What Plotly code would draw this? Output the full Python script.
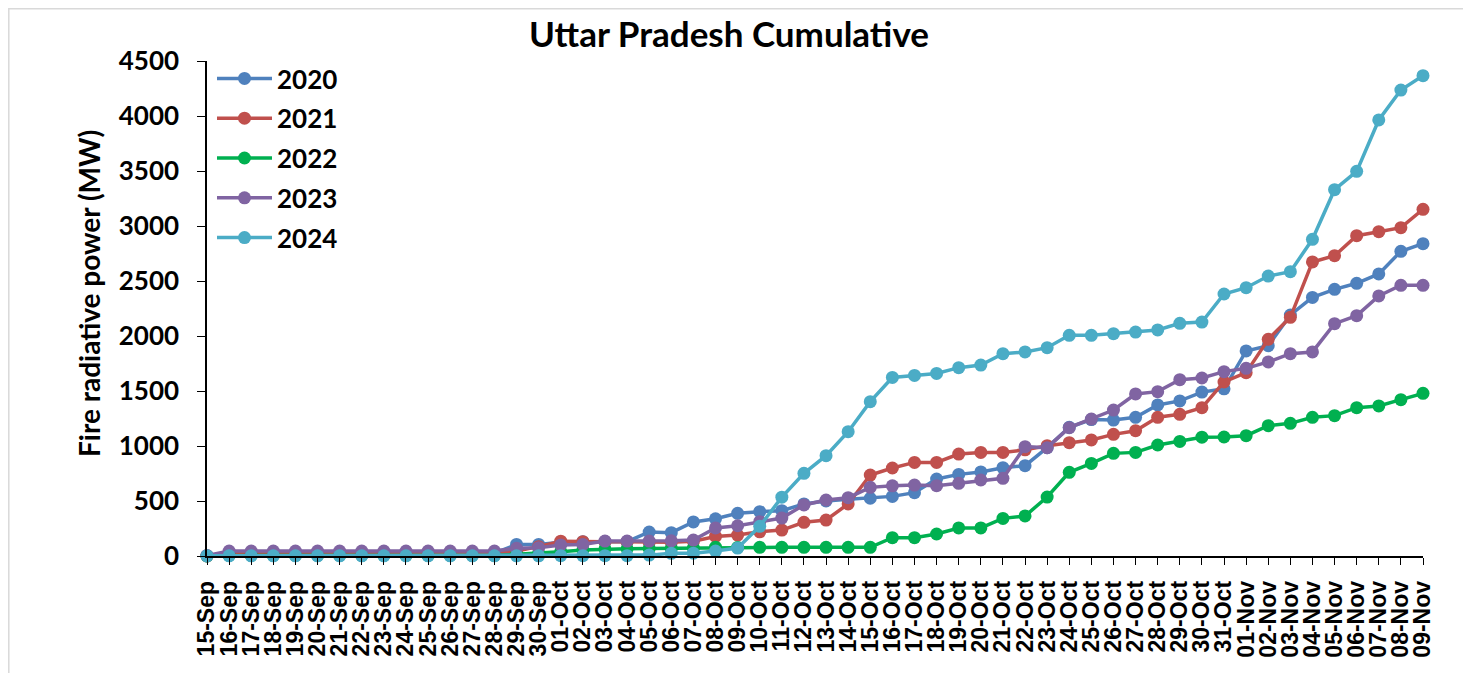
import plotly.graph_objects as go

dates = (["15-Sep", "16-Sep", "17-Sep", "18-Sep", "19-Sep", "20-Sep", "21-Sep", "22-Sep",
          "23-Sep", "24-Sep", "25-Sep", "26-Sep", "27-Sep", "28-Sep", "29-Sep", "30-Sep"]
         + ["%02d-Oct" % d for d in range(1, 32)]
         + ["%02d-Nov" % d for d in range(1, 10)])

y2020 = [0, 25, 25, 25, 25, 25, 25, 25, 25, 25, 25, 25, 25, 25, 105, 105,
         125, 130, 130, 130, 218, 212, 310, 338, 388, 403, 412, 473, 500, 515,
         525, 542, 576, 700, 742, 764, 803, 821, 985, 1170, 1240, 1236, 1261, 1373,
         1410, 1490, 1520, 1864, 1912, 2191, 2351, 2424, 2479, 2564, 2770, 2839]
y2021 = [0, 20, 20, 20, 20, 20, 20, 20, 20, 20, 20, 20, 20, 20, 45, 85,
         135, 130, 130, 130, 125, 125, 135, 178, 190, 220, 236, 306, 327, 473,
         736, 800, 851, 851, 927, 942, 942, 965, 1003, 1030, 1055, 1106, 1139, 1261,
         1288, 1348, 1582, 1667, 1970, 2170, 2673, 2730, 2912, 2948, 2985, 3152]
y2022 = [0, 5, 5, 5, 5, 5, 5, 5, 5, 5, 5, 5, 5, 5, 15, 25,
         39, 55, 64, 66, 68, 70, 72, 80, 78, 79, 79, 79, 79, 79,
         79, 167, 167, 200, 255, 255, 342, 364, 536, 761, 842, 933, 942, 1009,
         1042, 1080, 1082, 1094, 1185, 1206, 1261, 1276, 1348, 1364, 1421, 1479]
y2023 = [5, 45, 45, 45, 45, 45, 45, 45, 45, 45, 45, 45, 45, 45, 70, 76,
         100, 105, 136, 136, 136, 138, 145, 255, 275, 312, 345, 464, 509, 530,
         624, 638, 645, 639, 661, 691, 706, 994, 985, 1167, 1245, 1327, 1473, 1494,
         1603, 1618, 1676, 1706, 1764, 1839, 1855, 2112, 2185, 2364, 2461, 2461]
y2024 = [2, 2, 2, 2, 2, 2, 2, 2, 2, 2, 2, 2, 2, 2, 2, 2,
         3, 3, 3, 3, 8, 24, 26, 45, 72, 270, 535, 752, 912, 1130,
         1403, 1623, 1642, 1660, 1712, 1736, 1839, 1855, 1894, 2006, 2006, 2021, 2036, 2055,
         2115, 2127, 2382, 2439, 2545, 2585, 2879, 3330, 3497, 3964, 4236, 4367]

series_names = ["2020", "2021", "2022", "2023", "2024"]
series_values = [y2020, y2021, y2022, y2023, y2024]
colors = ["#4F81BD", "#C0504D", "#00B050", "#8064A2", "#4BACC6"]
y_ticks = [0, 500, 1000, 1500, 2000, 2500, 3000, 3500, 4000, 4500]

# page body has an 8px margin: figure pixel (x, y) lands at (x+8, y+8)
OFF = 8
W, H = 1471 - 2 * OFF, 681 - 2 * OFF
L, T = 207 - OFF, 61 - OFF
pw, ph = 1216, 495
R, B = W - L - pw, H - T - ph
BOT = T + ph  # plot bottom in figure pixels


def px_x(xr):
    return (xr - OFF - L) / pw


def px_y(yr):
    return (BOT - (yr - OFF)) / ph


fig = go.Figure()
for name, vals, col in zip(series_names, series_values, colors):
    fig.add_trace(go.Scatter(
        x=list(range(len(dates))), y=vals, name=name, mode="lines+markers",
        line=dict(color=col, width=3.5),
        marker=dict(color=col, size=13),
        cliponaxis=False, legendgroup=name,
    ))

fig.update_layout(
    width=W, height=H,
    margin=dict(l=L, r=R, t=T, b=B),
    paper_bgcolor="white", plot_bgcolor="white",
    showlegend=True,
    title=dict(text="Uttar Pradesh Cumulative", x=(729 - OFF) / W, xanchor="center",
               y=1 - (35 - OFF) / H, yanchor="middle", yref="container",
               font=dict(family="Lato", size=35, color="black", weight="bold")),
    legend=dict(x=px_x(212), y=px_y(55), xanchor="left", yanchor="top",
                bgcolor="rgba(0,0,0,0)",
                font=dict(family="Lato", size=26, color="black", weight="bold"),
                tracegroupgap=3, itemwidth=55),
    xaxis=dict(
        range=[0, len(dates) - 1], tickmode="array", tickvals=list(range(len(dates))),
        ticktext=dates, tickangle=-90,
        tickfont=dict(family="Liberation Sans", size=23, color="black", weight="bold"),
        ticklabelstandoff=7,
        showline=True, linecolor="black", linewidth=1.5, ticks="outside", ticklen=7,
        tickcolor="black", showgrid=False, zeroline=False, automargin=False,
    ),
    yaxis=dict(
        range=[0, 4500], tickvals=y_ticks, ticktext=[str(v) for v in y_ticks],
        tickfont=dict(family="Lato", size=26, color="black", weight="bold"),
        ticklabelstandoff=13,
        showline=True, linecolor="black", linewidth=1.5, ticks="outside", ticklen=8,
        tickcolor="black", showgrid=False, zeroline=False, automargin=False,
    ),
    annotations=[dict(
        text="Fire radiative power (MW)", textangle=-90,
        x=px_x(89), y=px_y(294), xref="paper", yref="paper",
        xanchor="center", yanchor="middle", showarrow=False,
        font=dict(family="Lato", size=28, color="black", weight="bold"),
    )],
    shapes=[dict(type="rect", xref="paper", yref="paper",
                 x0=(0.8 - L) / pw, x1=(W + 20 - L) / pw,
                 y0=(BOT - H - 20) / ph, y1=(BOT - 0.8) / ph,
                 line=dict(color="#D9D9D9", width=1.5), fillcolor="rgba(0,0,0,0)")],
)

fig.write_html("out.html")
